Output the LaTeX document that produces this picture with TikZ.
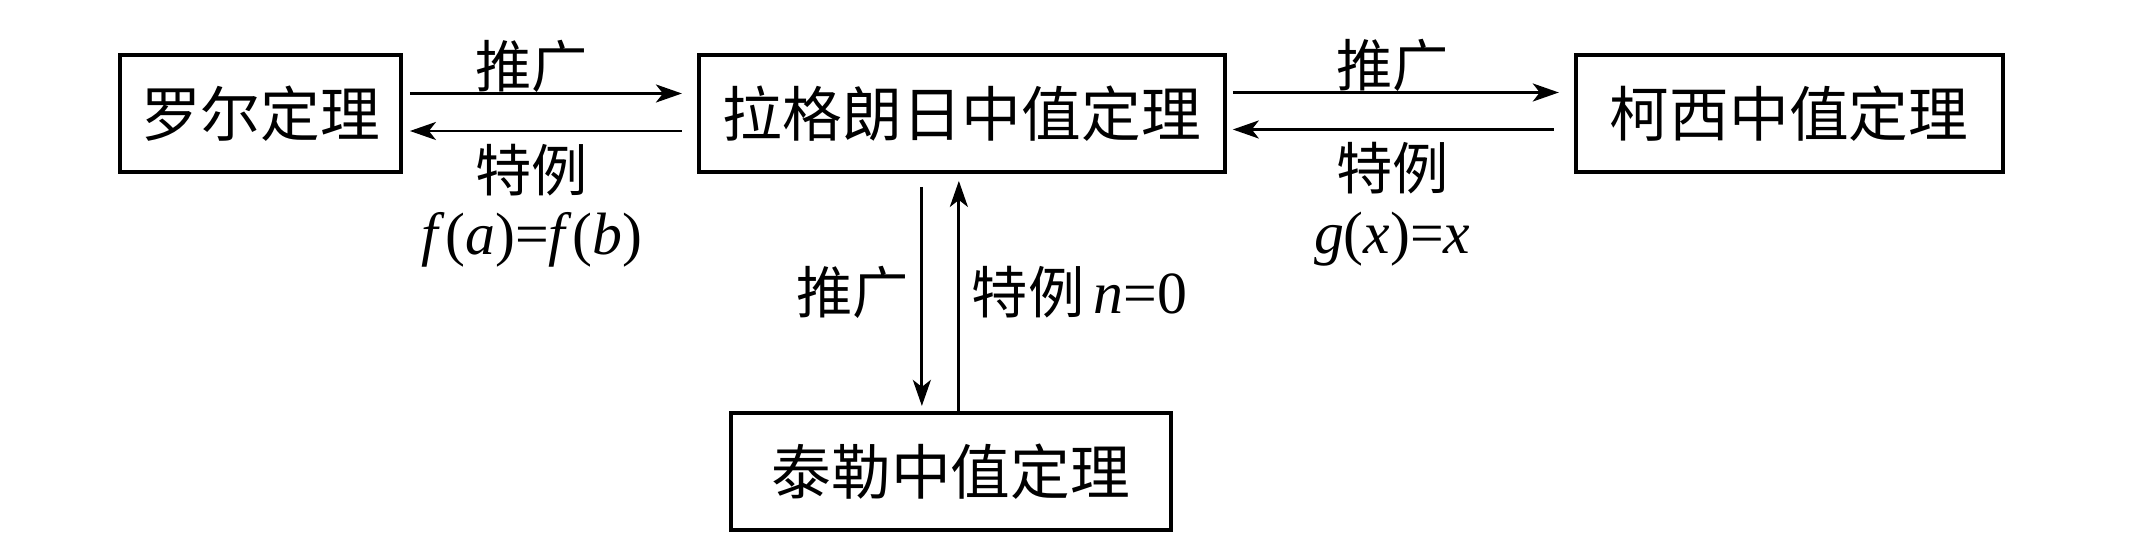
\documentclass[tikz,border=0pt]{standalone}
\usepackage{fontspec}
\usepackage{tikz}
\usetikzlibrary{positioning,arrows.meta}
\setmainfont{Liberation Serif}
\newfontfamily\cjk{Noto Sans CJK SC}
\newcommand{\fml}[1]{{\rmfamily\fontsize{17}{18}\selectfont #1}}

\begin{document}
\begin{tikzpicture}[node distance=2.94cm, auto, line width=0.8pt,
  box/.style={draw, line width=1.1pt, minimum height=1.17cm, inner sep=0pt, font=\cjk\fontsize{17}{20}\selectfont},
  lbl/.style={font=\cjk\fontsize{16}{18}\selectfont, align=center},
  >={Stealth[length=2.6mm,width=1.8mm,inset=0.7mm]}]
  \useasboundingbox (0,0) rectangle (21.32,-5.52);
  \node (R) [box, minimum width=2.81cm] at (2.605,-1.135) {罗尔定理};
  \node (L) [box, minimum width=5.26cm, right=2.94cm of R] {拉格朗日中值定理};
  \node (C) [box, minimum width=4.27cm, right=3.47cm of L] {柯西中值定理};
  \node (T) [box, minimum width=4.40cm, below=2.37cm of L, xshift=-1.1mm] {泰勒中值定理};

  \draw[->, shorten <=0.7mm, shorten >=1.5mm] ([yshift=2mm]R.east) -- node[lbl, above, xshift=-1.8mm, yshift=-1.2mm] {推广} ([yshift=2mm]L.west);
  \draw[->, shorten <=1.5mm, shorten >=0.7mm] ([yshift=-1.75mm]L.west) -- node[lbl, below, xshift=-1.8mm] {特例\\\fml{\textit{f}(\textit{a})=\textit{f}(\textit{b})}} ([yshift=-1.75mm]R.east);
  \draw[->, shorten <=0.6mm, shorten >=1.5mm] ([yshift=2.1mm]L.east) -- node[lbl, above, xshift=-0.8mm, yshift=-1.2mm] {推广} ([yshift=2.1mm]C.west);
  \draw[->, shorten <=2mm, shorten >=0.6mm] ([yshift=-1.6mm]C.west) -- node[lbl, below, xshift=-0.8mm] {特例\\\fml{\textit{g}(\textit{x})=\textit{x}}} ([yshift=-1.6mm]L.east);
  \draw[->, shorten <=1.3mm, shorten >=0.5mm] ([xshift=-4mm]L.south) -- node[lbl, left] {推广} ([xshift=-4mm]L.south |- T.north);
  \draw[->, shorten >=0.7mm] ([xshift=-0.3mm]L.south |- T.north) -- node[lbl, right] {特例\,\fml{\textit{n}=0}} ([xshift=-0.3mm]L.south);
\end{tikzpicture}
\end{document}
